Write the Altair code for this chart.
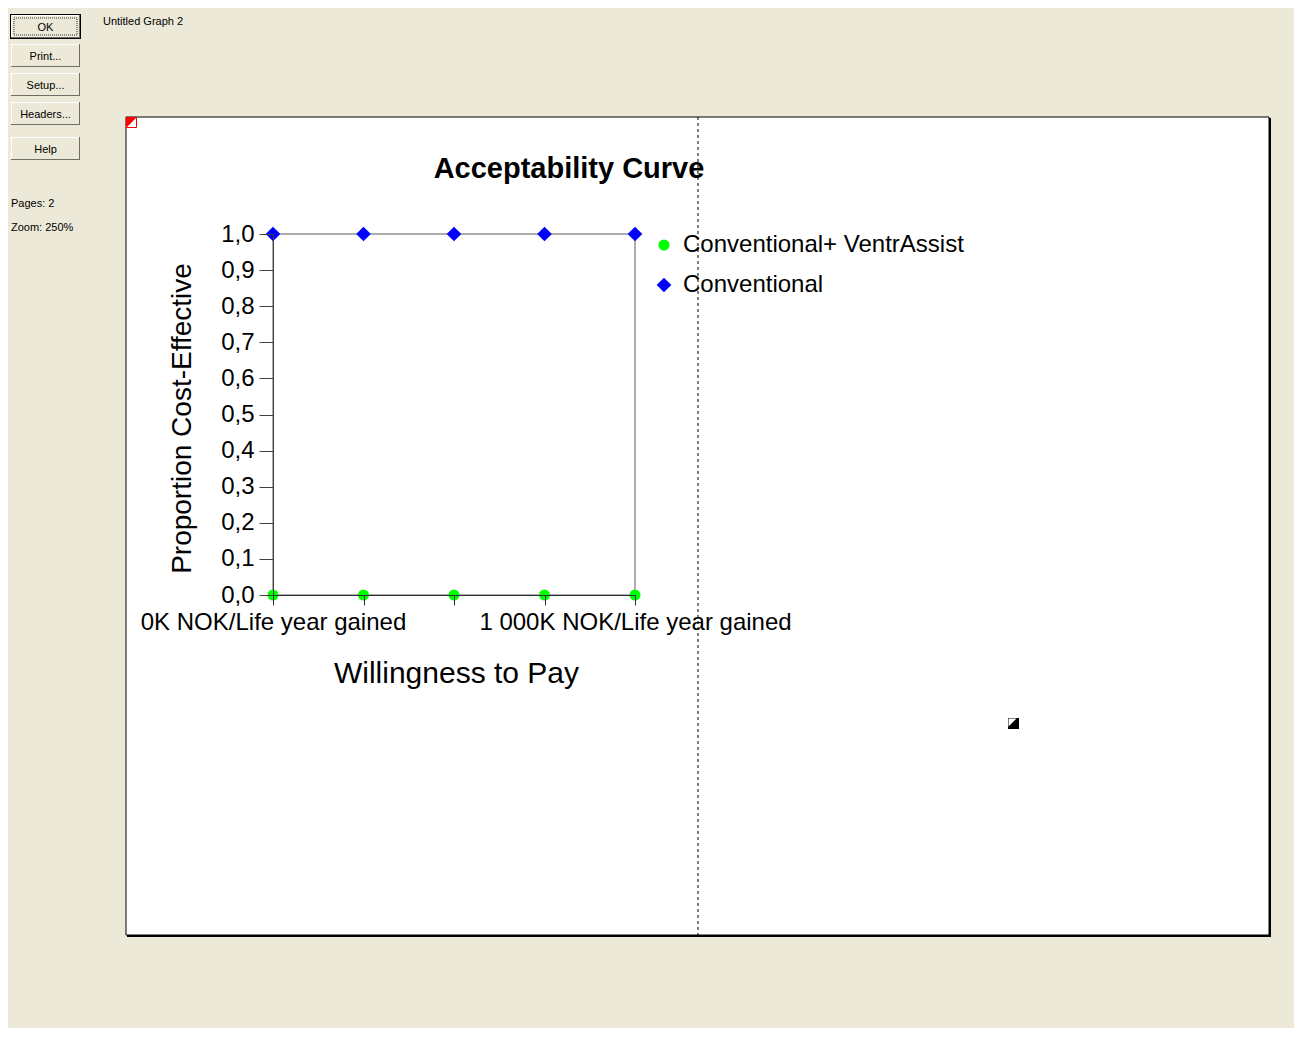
import altair as alt
import pandas as pd

# ---------------- data ----------------
wtp_k = [0, 250, 500, 750, 1000]
series_names = ["Conventional+ VentrAssist", "Conventional"]
prop_conv_ventr = [0.0, 0.0, 0.0, 0.0, 0.0]
prop_conv = [1.0, 1.0, 1.0, 1.0, 1.0]
y_ticks = [0.0, 0.1, 0.2, 0.3, 0.4, 0.5, 0.6, 0.7, 0.8, 0.9, 1.0]
x_tick_labels = ["0K NOK/Life year gained", "", "", "", "1 000K NOK/Life year gained"]
series_colors = ["#00FF00", "#0000FF"]
series_shapes = ["circle", "diamond"]

chart_title = "Acceptability Curve"
x_title = "Willingness to Pay"
y_title = "Proportion Cost-Effective"

window_title = "Untitled Graph 2"
button_labels = ["OK", "Print...", "Setup...", "Headers...", "Help"]
status_lines = ["Pages:  2", "Zoom:  250%"]

FONT = "Liberation Sans"
BEIGE = "#ECE9D8"

rows = []
for name, vals in zip(series_names, [prop_conv_ventr, prop_conv]):
    for w, p in zip(wtp_k, vals):
        rows.append({"wtp": w, "prop": p, "series": name})
df = pd.DataFrame(rows)

# label expression for x axis
expr = "''"
for v, lab in reversed(list(zip(wtp_k, x_tick_labels))):
    if lab:
        expr = f"datum.value == {v} ? '{lab}' : ({expr})"

W, H = 362, 361
one = alt.Data(values=[{}])


def rect(x, x2, y, y2, **mk):
    return alt.Chart(one).mark_rect(**mk).encode(
        x=alt.value(x), x2=alt.value(x2), y=alt.value(y), y2=alt.value(y2))


def label(x, y, txt, **mk):
    return alt.Chart(one).mark_text(font=FONT, color="black", **mk).encode(
        x=alt.value(x), y=alt.value(y), text=alt.value(txt))


def tri(x, y, size, color):
    return alt.Chart(one).mark_point(
        shape="M-1,-1L1,-1L-1,1Z", filled=True, opacity=1, color=color, size=size
    ).encode(x=alt.value(x), y=alt.value(y))


layers = []
# page (white sheet) with shadow
layers.append(rect(-146, 998, -116, 703, fill="black"))
layers.append(rect(-147, 996, -117, 701, fill="white", stroke="black", strokeWidth=1))
# page break dashed line
layers.append(alt.Chart(one).mark_rule(color="black", strokeDash=[3, 3], strokeWidth=1).encode(
    x=alt.value(425), y=alt.value(-117), y2=alt.value(701)))
# red corner marker
layers.append(rect(-146.5, -136.5, -116.5, -106.5, fill="white", stroke="red", strokeWidth=1))
layers.append(tri(-141.5, -111.5, 100, "red"))
# small icon
layers.append(rect(735, 746, 484, 495, fill="black"))
layers.append(tri(739.5, 488.5, 64, "white"))

# window buttons
btn_tops = [-219, -190, -161, -132, -97]
for lab, top in zip(button_labels, btn_tops):
    x0, x1, y0, y1 = -262, -193, top, top + 23
    if lab == "OK":
        layers.append(rect(x0 - 1, x1 + 1, y0 - 1, y1 + 1, fill="black"))
    layers.append(rect(x0, x1, y0, y1, fill="#716F64"))
    layers.append(rect(x0, x1 - 1, y0, y1 - 1, fill="white"))
    layers.append(rect(x0 + 1, x1 - 1, y0 + 1, y1 - 1, fill=BEIGE))
    if lab == "OK":
        layers.append(rect(x0 + 3, x1 - 3, y0 + 3, y1 - 3, fill=BEIGE, stroke="#333",
                           strokeWidth=1, strokeDash=[1, 1]))
    layers.append(label((x0 + x1) / 2, (y0 + y1) / 2 + 1, lab, fontSize=11,
                        align="center", baseline="middle"))

layers.append(label(-170, -212, window_title, fontSize=11, align="left", baseline="middle"))
layers.append(label(-262, -30, status_lines[0], fontSize=11, align="left", baseline="middle"))
layers.append(label(-262, -6, status_lines[1], fontSize=11, align="left", baseline="middle"))

# chart title
layers.append(label(296, -56, chart_title, fontSize=29, fontWeight="bold",
                    align="center", baseline="alphabetic"))

# plot frame (box around the plot area)
layers.append(rect(0, W, 0, H, fillOpacity=0, stroke="#5a5a5a", strokeWidth=1))

leg = alt.Legend(
    title=None, orient="none", legendX=379, legendY=-1, padding=0,
    labelFont=FONT, labelFontSize=24, labelColor="black", labelLimit=500,
    labelOffset=7, rowPadding=16, symbolStrokeWidth=0,
)

points = alt.Chart(df).mark_point(filled=True, opacity=1).encode(
    x=alt.X("wtp:Q",
            scale=alt.Scale(domain=[min(wtp_k), max(wtp_k)], nice=False, zero=False),
            axis=alt.Axis(values=wtp_k, labelExpr=expr, grid=False, zindex=1,
                          labelFont=FONT, labelFontSize=24, labelColor="black",
                          labelFlush=False, labelOverlap=False, labelPadding=5,
                          labelLimit=500,
                          tickSize=10, tickColor="#303030", domainColor="#303030",
                          title=x_title, titleFont=FONT, titleFontSize=30,
                          titleFontWeight="normal", titleColor="black",
                          titleX=183, titleY=87, titleAlign="center",
                          titleBaseline="alphabetic", titleLimit=600)),
    y=alt.Y("prop:Q",
            scale=alt.Scale(domain=[0, 1], nice=False),
            axis=alt.Axis(values=y_ticks,
                          labelExpr="replace(format(datum.value, '.1f'), '.', ',')",
                          grid=False, zindex=1,
                          labelFont=FONT, labelFontSize=24, labelColor="black",
                          labelPadding=5, labelOverlap=False, labelFlush=False,
                          tickSize=14, tickColor="#404040", domainColor="#404040",
                          title=y_title, titleFont=FONT, titleFontSize=28,
                          titleFontWeight="normal", titleColor="black",
                          titleX=-83, titleY=184, titleAngle=270,
                          titleAlign="center", titleBaseline="alphabetic",
                          titleLimit=600)),
    color=alt.Color("series:N", scale=alt.Scale(domain=series_names, range=series_colors),
                    legend=leg),
    shape=alt.Shape("series:N", scale=alt.Scale(domain=series_names, range=series_shapes),
                    legend=leg),
    size=alt.Size("series:N", scale=alt.Scale(domain=series_names, range=[121, 216]),
                  legend=leg),
)
layers.append(points)

chart = alt.layer(*layers).properties(
    width=W, height=H,
    padding={"left": 265, "top": 226, "right": 659, "bottom": 433},
    autosize=alt.AutoSizeParams(type="none"),
    background=BEIGE,
).configure_view(strokeWidth=0)

chart.save("out.html", embed_options={"renderer": "svg", "actions": False})
